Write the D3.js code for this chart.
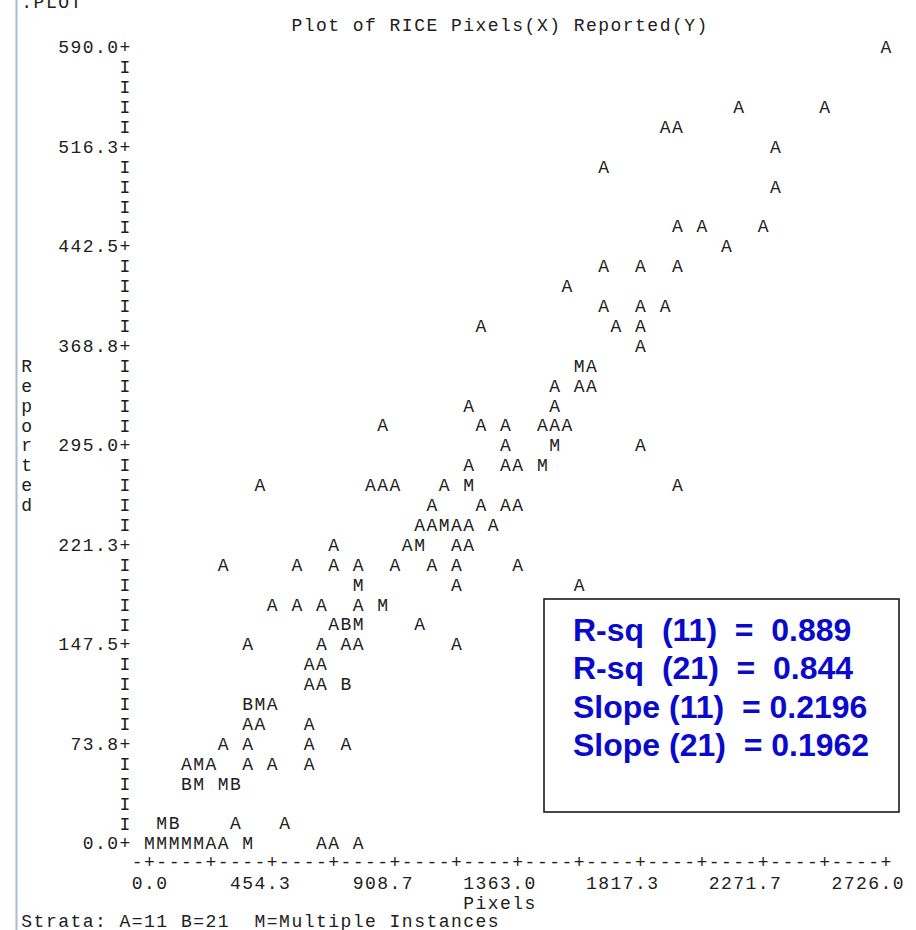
<!DOCTYPE html>
<html><head><meta charset="utf-8">
<script src="https://cdn.jsdelivr.net/npm/d3@7"></script>
<style>
html,body{margin:0;padding:0;background:#fff;overflow:hidden}
text{white-space:pre}
</style>
</head><body>
<svg id="chart" width="916" height="930"></svg>
<script>
// ---------------- data ----------------
const titleText = "Plot of RICE Pixels(X) Reported(Y)";
const xAxisTitle = "Pixels";
const yAxisTitle = "Reported";
const legendText = "Strata: A=11 B=21  M=Multiple Instances";
const xTickLabels = ["0.0","454.3","908.7","1363.0","1817.3","2271.7","2726.0"];
const yTickLabels = ["590.0","516.3","442.5","368.8","295.0","221.3","147.5","73.8","0.0"];

// Stratum A=11
const aPixels = [
  2726.0,
  2180.8, 2498.8,
  1908.2, 1953.6,
  2317.1,
  1681.1,
  2317.1,
  1953.6, 2044.5, 2271.7,
  2135.4,
  1681.1, 1817.3, 1953.6,
  1544.7,
  1681.1, 1817.3, 1908.2,
  1226.7, 1726.5, 1817.3,
  1817.3,
  1635.6,
  1499.3, 1590.2, 1635.6,
  1181.3, 1499.3,
  863.2, 1226.7, 1317.6, 1453.9, 1499.3, 1544.7,
  1317.6, 1817.3,
  1181.3, 1317.6, 1363.0,
  408.9, 817.8, 863.2, 908.7, 1090.4, 1953.6,
  1045.0, 1226.7, 1317.6, 1363.0,
  999.5, 1045.0, 1135.8, 1181.3, 1272.1,
  681.5, 954.1, 1135.8, 1181.3,
  272.6, 545.2, 681.5, 772.4, 908.7, 1045.0, 1135.8, 1363.0,
  1135.8, 1590.2,
  454.3, 545.2, 636.1, 772.4,
  681.5, 999.5,
  363.5, 636.1, 726.9, 772.4, 1135.8,
  590.6, 636.1,
  590.6, 636.1,
  454.3,
  363.5, 408.9, 590.6,
  272.6, 363.5, 590.6, 726.9,
  136.3, 227.2, 363.5, 454.3, 590.6,
  318.0, 499.8,
  227.2, 272.6, 636.1, 681.5, 772.4
];
const aReported = [
  590.0,
  545.8, 545.8,
  531.0, 531.0,
  516.3,
  501.5,
  486.8,
  457.3, 457.3, 457.3,
  442.5,
  427.8, 427.8, 427.8,
  413.0,
  398.3, 398.3, 398.3,
  383.5, 383.5, 383.5,
  368.8,
  354.0,
  339.3, 339.3, 339.3,
  324.5, 324.5,
  309.8, 309.8, 309.8, 309.8, 309.8, 309.8,
  295.0, 295.0,
  280.3, 280.3, 280.3,
  265.5, 265.5, 265.5, 265.5, 265.5, 265.5,
  250.8, 250.8, 250.8, 250.8,
  236.0, 236.0, 236.0, 236.0, 236.0,
  221.3, 221.3, 221.3, 221.3,
  206.5, 206.5, 206.5, 206.5, 206.5, 206.5, 206.5, 206.5,
  191.8, 191.8,
  177.0, 177.0, 177.0, 177.0,
  162.3, 162.3,
  147.5, 147.5, 147.5, 147.5, 147.5,
  132.8, 132.8,
  118.0, 118.0,
  103.3,
  88.5, 88.5, 88.5,
  73.8, 73.8, 73.8, 73.8,
  59.0, 59.0, 59.0, 59.0, 59.0,
  14.8, 14.8,
  0, 0, 0, 0, 0
];

// Stratum B=21
const bPixels   = [726.9, 726.9, 363.5, 136.3, 318.0, 90.9];
const bReported = [162.3, 118.0, 103.3, 44.3, 44.3, 14.8];

// M = multiple instances
const mPixels   = [1590.2, 1499.3, 1453.9, 1181.3, 1090.4, 999.5, 772.4, 863.2, 772.4, 408.9,
                   181.7, 181.7, 272.6, 45.4, 0, 45.4, 90.9, 136.3, 181.7, 363.5];
const mReported = [354.0, 295.0, 280.3, 265.5, 236.0, 221.3, 191.8, 177.0, 162.3, 103.3,
                   59.0, 44.3, 44.3, 14.8, 0, 0, 0, 0, 0, 0];

const statLines = ["R-sq  (11)  =  0.889", "R-sq  (21)  =  0.844", "Slope (11)  = 0.2196", "Slope (21)  = 0.1962"];

// ---------------- layout ----------------
const svg = d3.select("#chart");
const x = d3.scaleLinear().domain([0, 2726]).range([149.5, 886]);
const y = d3.scaleLinear().domain([0, 590]).range([843.5, 47.5]);
const colData = 2726 / 60;   // one printer column in data units
const rowData = 590 / 40;    // one printer row in data units
const FS = 18, BASE = 5.9;
const mono = "'Liberation Mono','DejaVu Sans Mono',monospace";
const ink = "#202020";

svg.append("rect").attr("width", 916).attr("height", 930).attr("fill", "#fff");
svg.append("rect").attr("x", 15.5).attr("y", 0).attr("width", 2).attr("height", 930).attr("fill", "#a7bbd2");

// helper: string laid on printer grid, first char at column c0, row pixel cy
function gridText(str, c0, cy, g) {
  const xs = Array.from(str).map((ch, i) => x((c0 + i) * colData));
  (g || svg).append("text")
    .attr("x", xs.join(" "))
    .attr("y", cy + BASE)
    .attr("text-anchor", "middle")
    .attr("font-family", mono).attr("font-size", FS).attr("fill", ink)
    .text(str);
}

// cropped header text at top
gridText(".PLOT", -10, 2);

// title
gridText(titleText, 12, y(590) - 22.5);

// y axis
const yRows = d3.range(0, 41);
svg.append("g").selectAll("text").data(yRows).join("text")
  .attr("x", x(-2 * colData))
  .attr("y", k => y(590 - k * rowData) + BASE)
  .attr("text-anchor", "middle")
  .attr("font-family", mono).attr("font-size", FS).attr("fill", ink)
  .text(k => (k % 5 === 0 ? "+" : "I"));

yTickLabels.forEach((lab, i) => {
  const v = 590 - i * 5 * rowData;
  gridText(lab, -3 - (lab.length - 1), y(v));
});

// y axis title (vertical, one char per row)
Array.from(yAxisTitle).forEach((ch, i) => {
  gridText(ch, -10, y(590 - (16 + i) * rowData));
});

// x axis line
const xCols = d3.range(-1, 61);
svg.append("g").selectAll("text").data(xCols).join("text")
  .attr("x", c => x(c * colData))
  .attr("y", y(-rowData) - 1 + BASE)
  .attr("text-anchor", "middle")
  .attr("font-family", mono).attr("font-size", FS).attr("fill", ink)
  .text(c => (c >= 0 && c % 5 === 0 ? "+" : "-"));

xTickLabels.forEach((lab, i) => {
  const tickCol = i * 10;
  const dot = lab.indexOf(".");
  gridText(lab, tickCol - dot, y(-2 * rowData) - 0.5);
});
gridText(xAxisTitle, 26, y(-3 * rowData));
gridText(legendText, -10, y(-4 * rowData) - 2.5);

// points
const points = [].concat(
  aPixels.map((p, i) => ({ px: p, rep: aReported[i], s: "A" })),
  bPixels.map((p, i) => ({ px: p, rep: bReported[i], s: "B" })),
  mPixels.map((p, i) => ({ px: p, rep: mReported[i], s: "M" }))
);
svg.append("g").selectAll("text").data(points).join("text")
  .attr("x", d => x(d.px))
  .attr("y", d => y(d.rep) + BASE)
  .attr("text-anchor", "middle")
  .attr("font-family", mono).attr("font-size", FS).attr("fill", ink)
  .text(d => d.s);

// stats box
svg.append("rect").attr("x", 544).attr("y", 599).attr("width", 355).attr("height", 213)
  .attr("fill", "#fff").attr("stroke", "#1a1a1a").attr("stroke-width", 1.6);
svg.append("g").selectAll("text").data(statLines).join("text")
  .attr("x", 573)
  .attr("y", (d, i) => 641 + i * 38.3)
  .attr("font-family", "'Liberation Sans',Arial,sans-serif")
  .attr("font-weight", "bold").attr("font-size", 32).attr("fill", "#0a0acc")
  .text(d => d);
</script>
</body></html>
